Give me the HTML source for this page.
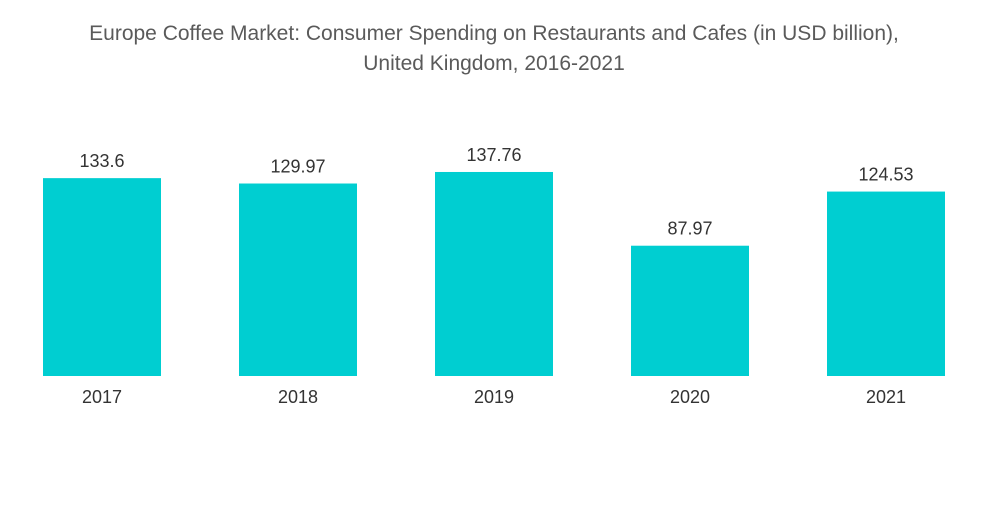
<!DOCTYPE html>
<html><head><meta charset="utf-8"><style>
body{margin:0;background:#fff;width:1000px;height:504px;overflow:hidden;font-family:"Liberation Sans",sans-serif}
</style></head><body>
<svg width="1000" height="504">
<text x="494" y="40" text-anchor="middle" font-size="21" fill="#5a5a5a">Europe Coffee Market: Consumer Spending on Restaurants and Cafes (in USD billion),</text>
<text x="494" y="70" text-anchor="middle" font-size="21" fill="#5a5a5a">United Kingdom, 2016-2021</text>
<g id="bars"></g>
</svg>
<script>
const categories=["2017","2018","2019","2020","2021"];
const values=[133.6,129.97,137.76,87.97,124.53];
const labels=["133.6","129.97","137.76","87.97","124.53"];
const svg=document.getElementById('bars');
const base=376,scale=1.481,x0=43,step=196,w=118;
const ns="http://www.w3.org/2000/svg";
const y=v=>base-v*scale;
categories.forEach((c,i)=>{
 const x=x0+i*step;
 const r=document.createElementNS(ns,'rect');
 r.setAttribute('x',x);r.setAttribute('y',y(values[i]));r.setAttribute('width',w);r.setAttribute('height',base-y(values[i]));r.setAttribute('fill','#00ced1');
 
 
 svg.appendChild(r);
 const t=document.createElementNS(ns,'text');
 t.setAttribute('x',x+w/2);t.setAttribute('y',y(values[i])-11);t.setAttribute('text-anchor','middle');t.setAttribute('font-size','18');t.setAttribute('fill','#333');
 t.textContent=labels[i];
 
 
 svg.appendChild(t);
 const l=document.createElementNS(ns,'text');
 l.setAttribute('x',x+w/2);l.setAttribute('y',403);l.setAttribute('text-anchor','middle');l.setAttribute('font-size','18');l.setAttribute('fill','#333');
 l.textContent=c;
 
 
 svg.appendChild(l);
});
</script>
</body></html>
